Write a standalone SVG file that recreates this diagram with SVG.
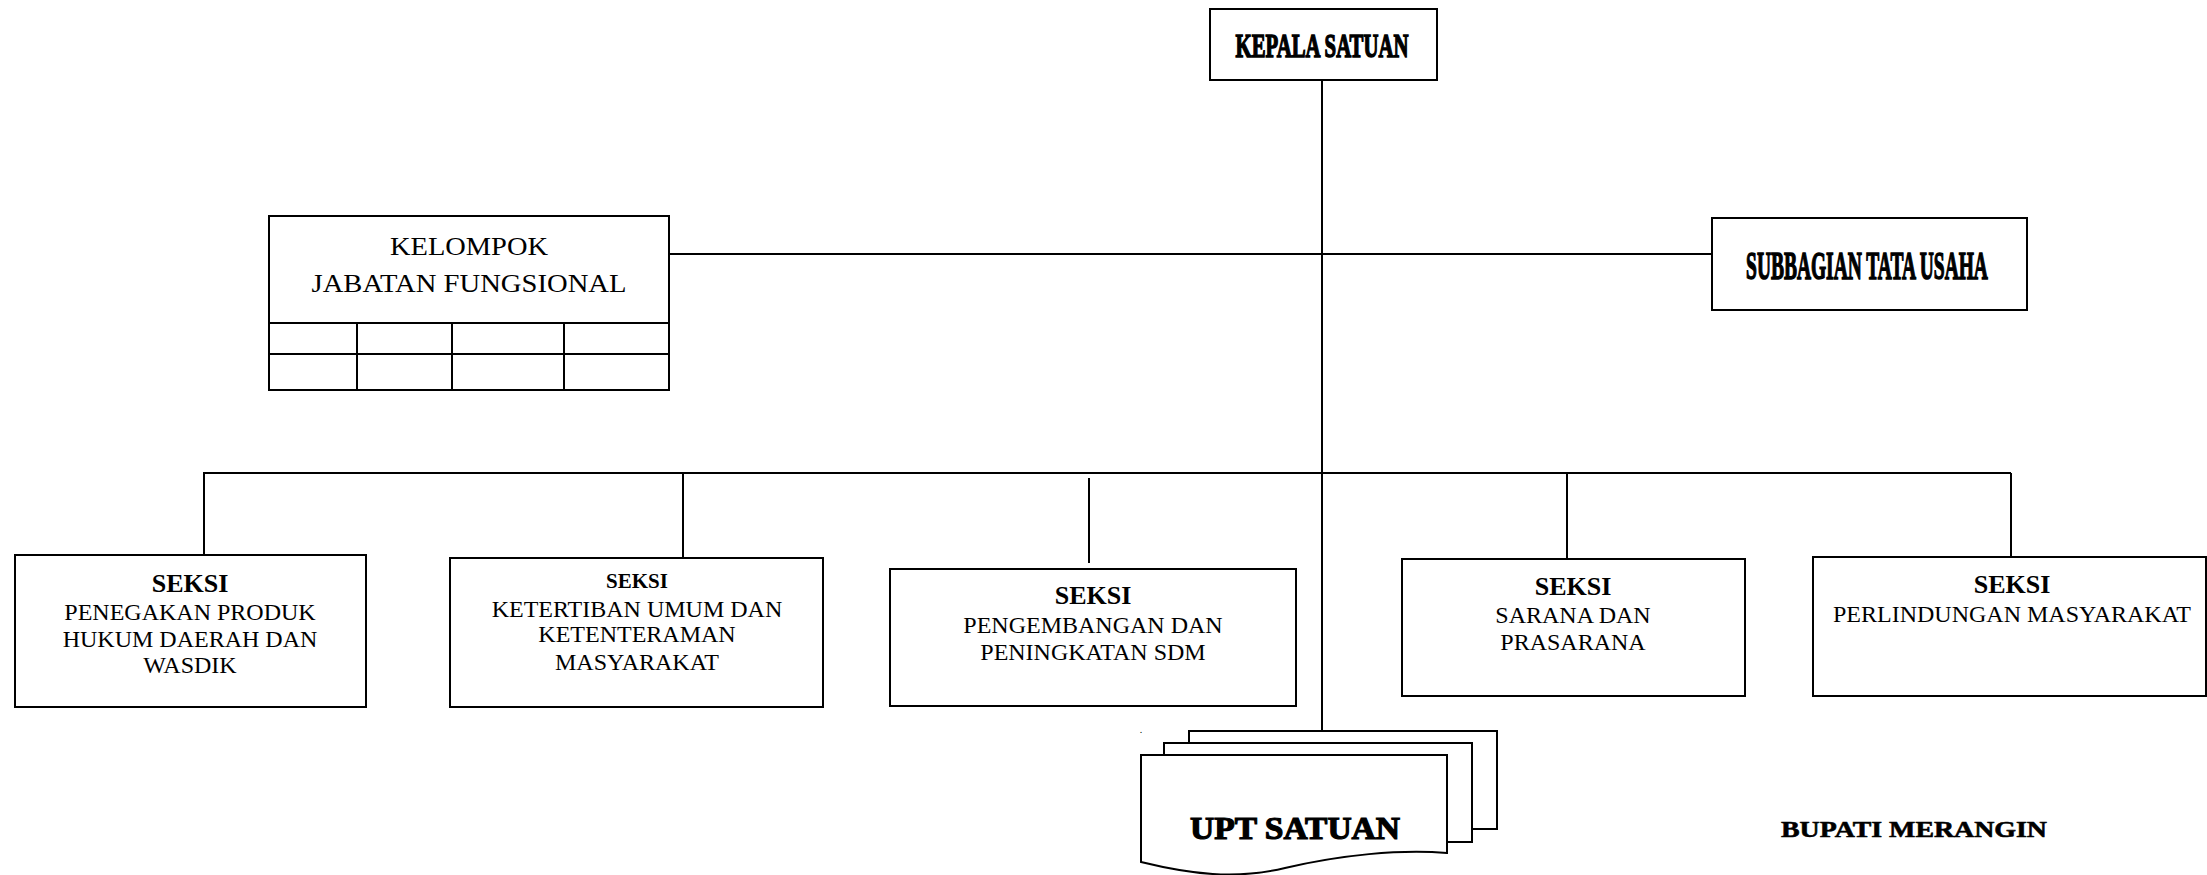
<svg xmlns="http://www.w3.org/2000/svg" width="2207" height="875" viewBox="0 0 2207 875">
<style>
.box{fill:#fff;stroke:#000;stroke-width:2}
.ln{stroke:#000;stroke-width:2;fill:none}
.t{font-family:"Liberation Serif","Times New Roman",serif;fill:#000;text-anchor:middle}
.b{font-weight:bold}
.h{stroke:#000;stroke-width:1.2}
.r{font-size:24px}
</style>
<rect width="2207" height="875" fill="#fff"/>
<g id="connectors">
<line class="ln" x1="1322" y1="80" x2="1322" y2="743"/>
<line class="ln" x1="669" y1="254" x2="1712" y2="254"/>
<line class="ln" x1="203" y1="473" x2="2011" y2="473"/>
<line class="ln" x1="204" y1="472" x2="204" y2="555"/>
<line class="ln" x1="683" y1="473" x2="683" y2="558"/>
<line class="ln" x1="1089" y1="478" x2="1089" y2="563"/>
<line class="ln" x1="1567" y1="473" x2="1567" y2="559"/>
<line class="ln" x1="2011" y1="473" x2="2011" y2="557"/>
</g>
<g id="kepala">
<rect class="box" x="1210" y="9" width="227" height="71"/>
<text class="t b" transform="matrix(0.6,0,0,1,1322,57)" x="0" y="0" font-size="33" stroke="#000" stroke-width="1.5" textLength="288" lengthAdjust="spacingAndGlyphs">KEPALA SATUAN</text>
</g>
<g id="kelompok">
<rect class="box" x="269" y="216" width="400" height="174"/>
<line class="ln" x1="269" y1="323" x2="669" y2="323"/>
<line class="ln" x1="269" y1="354" x2="669" y2="354"/>
<line class="ln" x1="357" y1="323" x2="357" y2="390"/>
<line class="ln" x1="452" y1="323" x2="452" y2="390"/>
<line class="ln" x1="564" y1="323" x2="564" y2="390"/>
<text class="t" x="469" y="255" font-size="26" textLength="158" lengthAdjust="spacingAndGlyphs">KELOMPOK</text>
<text class="t" x="469" y="292" font-size="26" textLength="315" lengthAdjust="spacingAndGlyphs">JABATAN FUNGSIONAL</text>
</g>
<g id="subbagian">
<rect class="box" x="1712" y="218" width="315" height="92"/>
<text class="t b" transform="matrix(0.6,0,0,1,1867,279)" x="0" y="0" font-size="39" stroke="#000" stroke-width="1.5" textLength="403" lengthAdjust="spacingAndGlyphs">SUBBAGIAN TATA USAHA</text>
</g>
<g id="seksi1">
<rect class="box" x="15" y="555" width="351" height="152"/>
<text class="t b" x="190" y="592" font-size="26">SEKSI</text>
<text class="t r" x="190" y="620">PENEGAKAN PRODUK</text>
<text class="t r" x="190" y="647">HUKUM DAERAH DAN</text>
<text class="t r" x="190" y="673">WASDIK</text>
</g>
<g id="seksi2">
<rect class="box" x="450" y="558" width="373" height="149"/>
<text class="t b" x="637" y="588" font-size="21">SEKSI</text>
<text class="t r" x="637" y="617">KETERTIBAN UMUM DAN</text>
<text class="t r" x="637" y="642">KETENTERAMAN</text>
<text class="t r" x="637" y="670">MASYARAKAT</text>
</g>
<g id="seksi3">
<rect class="box" x="890" y="569" width="406" height="137"/>
<text class="t b" x="1093" y="604" font-size="26">SEKSI</text>
<text class="t r" x="1093" y="633">PENGEMBANGAN DAN</text>
<text class="t r" x="1093" y="660">PENINGKATAN SDM</text>
</g>
<g id="seksi4">
<rect class="box" x="1402" y="559" width="343" height="137"/>
<text class="t b" x="1573" y="595" font-size="26">SEKSI</text>
<text class="t r" x="1573" y="623">SARANA DAN</text>
<text class="t r" x="1573" y="650">PRASARANA</text>
</g>
<g id="seksi5">
<rect class="box" x="1813" y="557" width="393" height="139"/>
<text class="t b" x="2012" y="593" font-size="26">SEKSI</text>
<text class="t r" x="2012" y="622">PERLINDUNGAN MASYARAKAT</text>
</g>
<g id="upt">
<rect class="box" x="1189" y="731" width="308" height="98"/>
<rect class="box" x="1164" y="743" width="308" height="99"/>
<path class="box" d="M1141,755 L1447,755 L1447,853 C1400,849 1340,855 1285,868 C1235,880 1190,874 1141,862 Z"/>
<text class="t b h" x="1295" y="839" font-size="32" textLength="210" lengthAdjust="spacingAndGlyphs">UPT SATUAN</text>
<text class="t" x="1141" y="733" font-size="10">.</text>
</g>
<g id="bupati">
<text class="t b" x="1914" y="837" font-size="24" stroke="#000" stroke-width="0.6" textLength="266" lengthAdjust="spacingAndGlyphs">BUPATI MERANGIN</text>
</g>
</svg>
